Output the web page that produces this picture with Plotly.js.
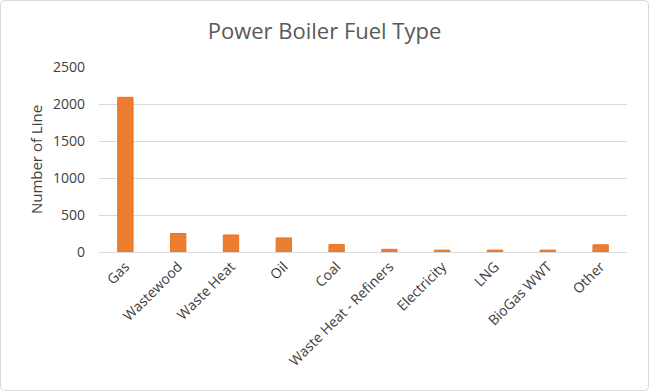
<!DOCTYPE html>
<html><head><meta charset="utf-8">
<script src="https://cdn.plot.ly/plotly-3.0.1.min.js"></script>
<style>html,body{margin:0;padding:0;background:#fff;}#chart{width:649px;height:391px;}</style>
</head><body><div id="chart"></div>
<script>
const categories = ["Gas","Wastewood","Waste Heat","Oil","Coal","Waste Heat - Refiners","Electricity","LNG","BioGas WWT","Other"];
const values = [2090, 250, 230, 190, 100, 36, 25, 25, 25, 97];
const yTicks = [0, 500, 1000, 1500, 2000, 2500];

const font = "Open Sans, Noto Sans, sans-serif";
Plotly.newPlot("chart", [{
  type: "bar",
  x: categories,
  y: values,
  marker: {color: "#ED7D31", line: {color: "#E87422", width: 1}},
  hoverinfo: "none"
}], {
  width: 649, height: 391,
  margin: {l: 99, r: 22, t: 67, b: 139},
  paper_bgcolor: "#fff", plot_bgcolor: "#fff",
  bargap: 0.71,
  showlegend: false,
  title: {text: "Power Boiler Fuel Type", x: 0.5, xanchor: "center", y: 0.92, yanchor: "middle",
          font: {family: font, size: 22, color: "#595959"}},
  xaxis: {
    tickangle: -45, tickfont: {family: font, size: 14, color: "#404040"},
    showline: true, linecolor: "#d9d9d9", linewidth: 1,
    ticks: "", showgrid: false, automargin: false
  },
  yaxis: {
    range: [0, 2500], tickvals: yTicks, ticktext: yTicks.map(String),
    tickfont: {family: font, size: 14, color: "#404040"},
    ticklabelstandoff: 13,
    gridcolor: "#d9d9d9", gridwidth: 1, zeroline: false, showline: false,
    ticks: "", ticklen: 0, automargin: false,
    title: {text: "Number of Line", standoff: 6, font: {family: font, size: 15, color: "#404040"}}
  }
}, {staticPlot: true, displayModeBar: false}).then(() => {
  const svg = document.querySelector("#chart .main-svg");
  const r = document.createElementNS("http://www.w3.org/2000/svg", "rect");
  r.setAttribute("x", 0.5); r.setAttribute("y", 0.5);
  r.setAttribute("width", 648); r.setAttribute("height", 390);
  r.setAttribute("rx", 4);
  r.setAttribute("fill", "none"); r.setAttribute("stroke", "#d9d9d9");
  svg.appendChild(r);
});
</script></body></html>
